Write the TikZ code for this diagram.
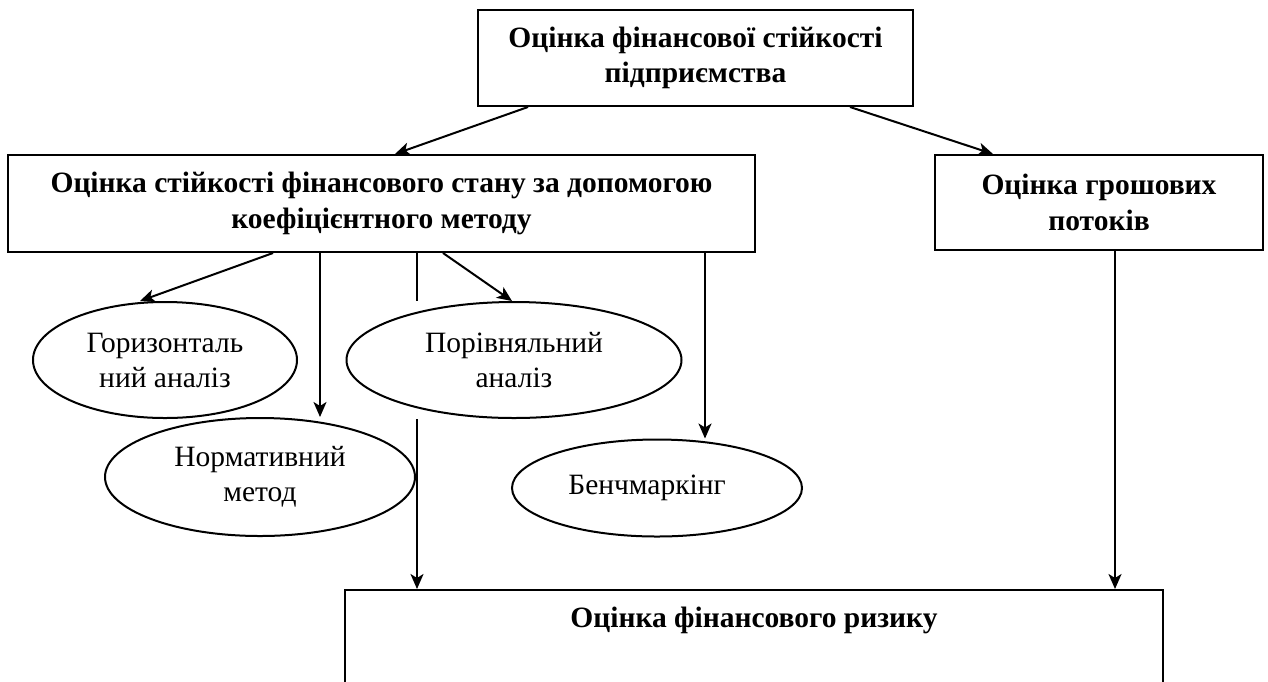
\documentclass[tikz,border=0pt]{standalone}
\usepackage{fontspec}
\setmainfont{Liberation Serif}
\usetikzlibrary{shapes.geometric, arrows.meta}
\tikzset{
  box/.style={draw=black, line width=2pt, inner sep=0pt, align=center,
    font=\bfseries\fontsize{29.5}{35.5}\selectfont},
  oval/.style={ellipse, draw=black, line width=2pt, inner sep=0pt, align=center,
    font=\fontsize{29.5}{35}\selectfont},
  link/.style={-{Stealth[length=15pt, width=13pt, inset=4pt]}, line width=2pt}
}

\begin{document}
\begin{tikzpicture}[x=1pt, y=-1pt]
        \useasboundingbox (0,0) rectangle (1268,681);
        % boxes
        \node[box, minimum width=435pt, minimum height=96pt](top) at (695.5,58)
            {Оцінка фінансової стійкості\\підприємства};
        \node[box, minimum width=747pt, minimum height=97pt](coef) at (381.5,203.5)
            {Оцінка стійкості фінансового стану за допомогою\\коефіцієнтного методу};
        \node[box, minimum width=328pt, minimum height=95pt](cash) at (1099,202.5)
            {Оцінка грошових\\потоків};
        \node[box, minimum width=818pt, minimum height=140pt, anchor=north](risk) at (754,589) {};
        \node[font=\bfseries\fontsize{29.5}{35.5}\selectfont](riskt) at (754,620) {Оцінка фінансового ризику};

        % methods
        \node[oval, minimum width=264pt, minimum height=116pt](horiz) at (165,360)
            {Горизонталь\\ний аналіз};
        \node[oval, minimum width=335pt, minimum height=116pt](compar) at (514,360)
            {Порівняльний\\аналіз};
        \node[oval, minimum width=310pt, minimum height=118pt](norm) at (260,477)
            {\rule{0pt}{8pt}Нормативний\\метод};
        \node[oval, minimum width=290pt, minimum height=97pt](bench) at (657,488)
            {Бенчмаркінг\hspace*{20pt}};

        % arrows
        \draw[link] (top.south -| 528,0) -- (coef.north -| 395,0);
        \draw[link] (top.south -| 850,0) -- (cash.north -| 993,0);
        \draw[link] (coef.south -| 273,0) -- (horiz.north -| 140,0);
        \draw[link] (coef.south -| 320,0) -- (norm.north -| 320,0);
        \draw[line width=2pt] (coef.south -| 417,0) -- (compar.north -| 417,0);
        \draw[link] (compar.south -| 417,0) -- (risk.north -| 417,0);
        \draw[link] (coef.south -| 443,0) -- (compar.north -| 512,0);
        \draw[link] (coef.south -| 705,0) -- (bench.north -| 705,0);
        \draw[link] (cash.south -| 1115,0) -- (risk.north -| 1115,0);
\end{tikzpicture}
\end{document}
